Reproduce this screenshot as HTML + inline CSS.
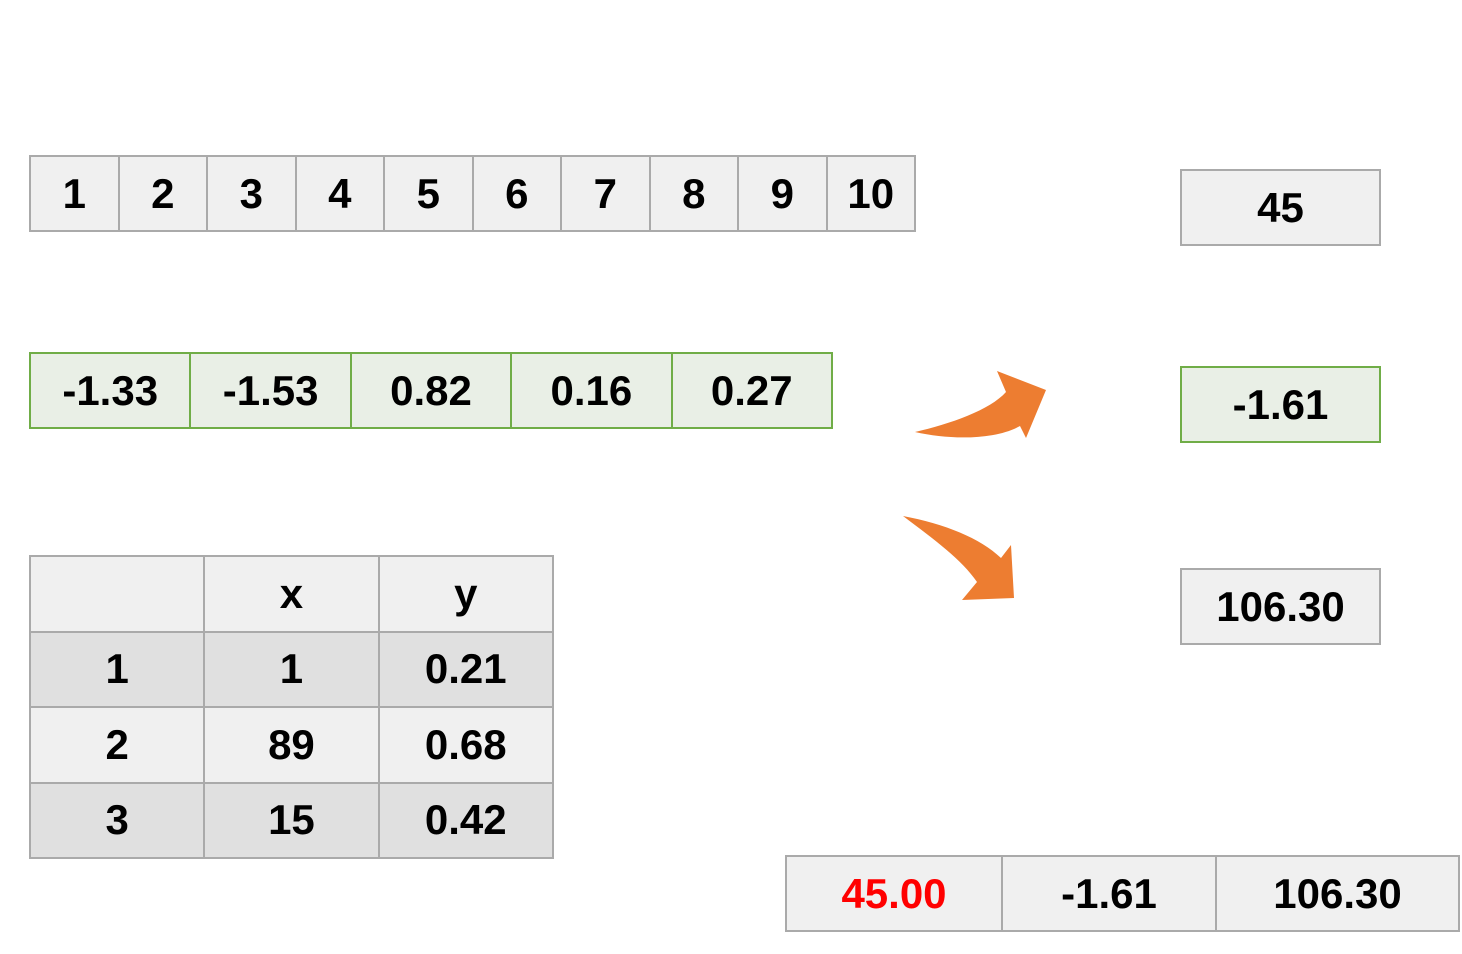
<!DOCTYPE html>
<html><head><meta charset="utf-8"><style>
body{margin:0;width:1462px;height:954px;background:#fff;position:relative;overflow:hidden;font-family:"Liberation Sans","DejaVu Sans",sans-serif;}
.c{position:absolute;box-sizing:border-box;border:2px solid #aaa;background:#f0f0f0;display:flex;align-items:center;justify-content:center;font-weight:bold;font-size:42px;color:#000;}
.g{border-color:#70ad47;background:#e9efe6;}
.d{background:#e0e0e0;}
</style></head><body>
<div id="root"></div>
<svg width="1462" height="954" style="position:absolute;left:0;top:0">
<path fill="#ed7d31" d="M915,432 C950,424 990,410 1006,392 L997,371 L1046,390 L1026,438 L1020,426 C995,440 950,440 915,432 Z"/>
<path fill="#ed7d31" d="M903,516 C945,524 980,538 1001,558 L1011,545 L1014,598 L962,600 L977,582 C962,560 935,540 903,516 Z"/>
</svg>
<script>
const row1=["1","2","3","4","5","6","7","8","9","10"];
const row2=["-1.33","-1.53","0.82","0.16","0.27"];
const tbl=[["","x","y"],["1","1","0.21"],["2","89","0.68"],["3","15","0.42"]];
const outs=["45.00","-1.61","106.30"];
const root=document.getElementById('root');
function cell(x,y,w,h,t,cls){const e=document.createElement('div');e.className='c '+(cls||'');e.style.left=x+'px';e.style.top=y+'px';e.style.width=w+'px';e.style.height=h+'px';e.textContent=t;root.appendChild(e);return e;}
row1.forEach((t,i)=>{const e=cell(29+i*88.5,155,90.5,77,t);

});
row2.forEach((t,i)=>{const e=cell(29+i*160.4,352,162.4,77,t,'g');

});
tbl.forEach((r,j)=>r.forEach((t,i)=>{const e=cell(29+i*174.3,555+j*75.5,176.3,77.5,t,j%2?'d':'');

}));
[["45",169,''],["-1.61",366,'g'],["106.30",568,'']].forEach(a=>{const e=cell(1180,a[1],201,77,a[0],a[2]);

});
const bx=[785,1001,1215,1458];
outs.forEach((t,i)=>{const e=cell(bx[i],855,bx[i+1]-bx[i]+2,77,t);if(i==0)e.style.color='#ff0000';

});
</script>
</body></html>
